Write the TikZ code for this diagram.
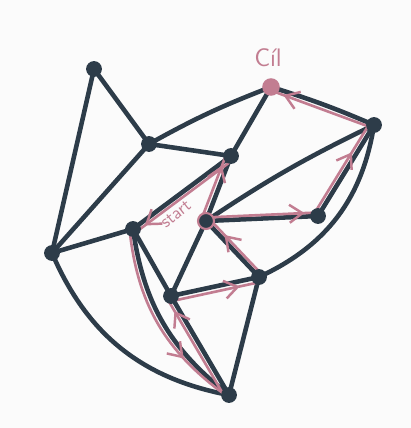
\documentclass[tikz,border=0pt]{standalone}
\usepackage{tikz}
\usetikzlibrary{arrows.meta, decorations.markings}
\definecolor{inkdark}{HTML}{2D3C49}
\definecolor{inkpink}{HTML}{C27D91}
\definecolor{paper}{HTML}{FBFBFB}
\tikzset{
  dot/.style={circle, fill=inkdark, inner sep=0pt, minimum size=9pt},
  goaldot/.style={circle, fill=inkpink, inner sep=0pt, minimum size=10pt},
  edge/.style={draw=inkdark, line width=2.6pt, line cap=round, line join=round},
  route/.style={draw=inkpink, line width=1.5pt, line cap=round,
    postaction={decorate},
    decoration={markings,
      mark=at position #1 with {\arrow{Straight Barb[length=2.6mm, width=3.6mm, line width=1.4pt]}}}},
  route/.default=0.8,
  lbl/.style={font=\sffamily, text=inkpink}
}

\begin{document}
\begin{tikzpicture}[x=0.02cm, y=-0.02cm]
  \fill[paper] (0,0) rectangle (411,428);
  \useasboundingbox (0,0) rectangle (411,428);

  % vertices of the graph
  \coordinate (a) at (94,69);
  \coordinate (b) at (149,144);
  \coordinate (goal) at (271,87);
  \coordinate (d) at (374,125);
  \coordinate (e) at (231,156);
  \coordinate (start) at (206,221);
  \coordinate (g) at (318,216);
  \coordinate (h) at (133,229);
  \coordinate (i) at (52,253);
  \coordinate (j) at (171,296);
  \coordinate (k) at (259,277);
  \coordinate (l) at (229,395);

  % dark edges
  \draw[edge] (a) -- (i);
  \draw[edge] (a) -- (b);
  \draw[edge] (b) -- (i);
  \draw[edge] (b) to[bend left=4] (goal);
  \draw[edge] (b) -- (e);
  \draw[edge] (e) -- (goal);
  \draw[edge] (goal) to[bend left=3] (d);
  \draw[edge] (start) to[bend left=4] (d);
  \draw[edge] (d) to[bend left=28] (k);
  \draw[edge] (e) -- (start);
  \draw[edge] (e) -- (h);
  \draw[edge] (i) -- (h);
  \draw[edge] (h) -- (j);
  \draw[edge] (h) to[bend right=22] (l);
  \draw[edge] (start) -- (j);
  \draw[edge] (start) -- (k);
  \draw[edge] (start) -- (g);
  \draw[edge] (g) -- (d);
  \draw[edge] (j) -- (k);
  \draw[edge] (k) -- (l);
  \draw[edge] (j) -- (l);
  \draw[edge] (i) to[bend right=28] (l);

  % search route
  \draw[route=0.85] ([xshift=-3]start) -- ([xshift=-3]e);
  \draw[route=0.88] ([yshift=-3]e) -- ([yshift=-3]h);
  \draw[route=0.72] ([xshift=-2]h) to[bend right=24] ([xshift=-2]l);
  \draw[route=0.85] ([xshift=-3]l) -- ([xshift=-3]j);
  \draw[route=0.78] ([yshift=-3]j) -- ([yshift=-3]k);
  \draw[route=0.75] ([xshift=3]k) -- ([xshift=3]start);
  \draw[route=0.88] ([yshift=2]start) -- ([yshift=2]g);
  \draw[route=0.7] ([xshift=-3]g) -- ([xshift=-3]d);
  \draw[route=0.88] ([yshift=-2]d) -- ([yshift=-2]goal);

  % vertex dots
  \foreach \v in {a, b, d, e, g, h, i, j, k, l, start}
    \node[dot] at (\v) {};
  \node[goaldot] at (goal) {};
  \draw[inkpink, line width=1.2pt] (start) circle (8);

  \node[lbl, rotate=38, inner sep=0pt] (startlbl) at (176,214) {start};
  \node[lbl, font=\sffamily\Large] (goallbl) at (268,58) {Cíl};
\end{tikzpicture}
\end{document}
